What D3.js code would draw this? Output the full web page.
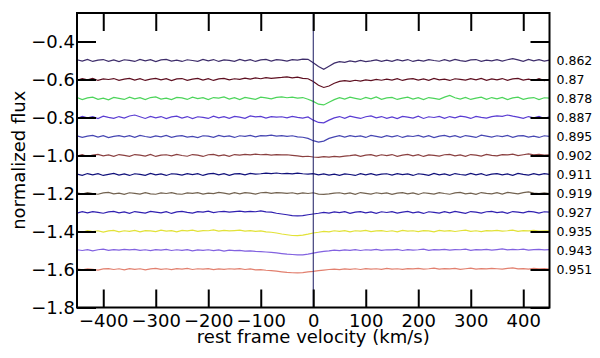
<!DOCTYPE html>
<html>
<head>
<meta charset="utf-8">
<script src="https://cdn.jsdelivr.net/npm/d3@7"></script>
<style>
body { margin: 0; background: #fff; }
svg text { font-family: "DejaVu Sans", sans-serif; fill: #000; }
</style>
</head>
<body>
<svg id="chart" width="600" height="358"></svg>
<script>
// velocity grid (km/s)
var velocity = [-450, -440, -430, -420, -410, -400, -390, -380, -370, -360,
	-350, -340, -330, -320, -310, -300, -290, -280, -270, -260,
	-250, -240, -230, -220, -210, -200, -190, -180, -170, -160,
	-150, -140, -130, -120, -110, -100, -90, -80, -70, -60,
	-50, -40, -30, -20, -10, 0, 10, 20, 30, 40,
	50, 60, 70, 80, 90, 100, 110, 120, 130, 140,
	150, 160, 170, 180, 190, 200, 210, 220, 230, 240,
	250, 260, 270, 280, 290, 300, 310, 320, 330, 340,
	350, 360, 370, 380, 390, 400, 410, 420, 430, 440,
	450];

var labels = ["0.862", "0.87", "0.878", "0.887", "0.895", "0.902", "0.911", "0.919", "0.927", "0.935", "0.943", "0.951"];
var offsets = [-0.5, -0.6, -0.7, -0.8, -0.9, -1.0, -1.1, -1.2, -1.3, -1.4, -1.5, -1.6];
var colors = ["#3d2c6a", "#5e0f20", "#4cd45a", "#5a3cd2", "#4646b2", "#8a4040", "#10107a", "#726250", "#3020b0", "#e2e238", "#8262e0", "#e2806f"];

var yTicks = [-1.8, -1.6, -1.4, -1.2, -1.0, -0.8, -0.6, -0.4];
var xTicks = [-400, -300, -200, -100, 0, 100, 200, 300, 400];

// flux minus continuum, one array per phase
var flux862 = [0.004, -0.003, 0.006, -0.005, 0.002, 0.005, -0.004, 0.003, -0.006, 0.004,
	0.001, -0.005, 0.006, -0.002, 0.004, -0.006, 0.003, 0.006, -0.003, 0.002,
	-0.005, 0.004, 0.000, -0.004, 0.006, -0.002, 0.005, -0.005, 0.003, 0.001,
	-0.004, 0.006, -0.002, 0.004, -0.005, 0.003, 0.006, -0.003, 0.005, 0.002,
	-0.003, 0.005, 0.002, 0.007, 0.006, -0.012, -0.032, -0.046, -0.030, -0.014,
	-0.006, -0.010, -0.002, -0.007, 0.001, -0.006, -0.002, 0.003, -0.005, 0.002,
	-0.004, 0.004, -0.002, 0.005, -0.005, 0.002, -0.003, 0.005, 0.000, -0.004,
	0.004, -0.003, 0.006, -0.001, -0.005, 0.003, 0.005, -0.004, 0.002, -0.002,
	0.005, -0.003, 0.004, 0.010, 0.003, -0.004, 0.006, -0.002, 0.004, -0.003,
	0.002];
var flux87 = [-0.004, 0.005, -0.002, 0.006, -0.005, 0.003, 0.000, 0.005, -0.004, 0.002,
	0.006, -0.003, 0.004, -0.005, 0.002, 0.006, -0.002, 0.004, -0.006, 0.003,
	0.005, -0.004, 0.002, 0.006, -0.003, 0.004, -0.005, 0.003, 0.006, -0.002,
	0.004, 0.001, 0.007, 0.002, 0.008, 0.004, 0.010, 0.006, 0.009, 0.011,
	0.014, 0.009, 0.012, 0.006, 0.004, -0.010, -0.030, -0.042, -0.034, -0.020,
	-0.010, -0.006, -0.010, -0.004, -0.008, -0.002, -0.006, 0.001, -0.004, 0.002,
	-0.003, 0.004, -0.005, 0.002, 0.005, -0.003, 0.003, -0.004, 0.006, -0.002,
	0.002, -0.005, 0.004, 0.001, -0.003, 0.005, -0.002, 0.006, -0.004, 0.003,
	-0.002, 0.005, -0.004, 0.003, 0.006, -0.003, 0.002, -0.005, 0.004, -0.006,
	0.001];
var flux878 = [0.005, -0.006, 0.003, 0.007, -0.004, 0.002, -0.007, 0.006, 0.001, -0.005,
	0.007, -0.002, 0.004, -0.006, 0.005, 0.008, -0.003, 0.002, -0.006, 0.006,
	0.003, -0.005, 0.007, -0.001, 0.004, -0.006, 0.005, 0.002, 0.008, -0.003,
	0.004, -0.006, 0.006, 0.001, -0.004, 0.007, 0.003, -0.002, 0.006, 0.009,
	0.004, 0.007, 0.002, 0.005, -0.004, -0.015, -0.030, -0.034, -0.020, -0.006,
	0.004, -0.003, 0.007, 0.001, -0.005, 0.006, -0.002, 0.008, -0.004, 0.003,
	0.006, -0.005, 0.002, 0.007, -0.003, 0.004, -0.006, 0.005, 0.001, -0.004,
	0.007, 0.016, 0.004, -0.003, 0.006, -0.005, 0.002, 0.007, -0.004, 0.005,
	-0.002, 0.006, -0.006, 0.003, 0.007, -0.004, 0.002, 0.005, -0.006, 0.004,
	0.002];
var flux887 = [-0.005, 0.006, -0.002, 0.004, -0.006, 0.007, 0.001, -0.004, 0.005, -0.003,
	0.008, 0.013, 0.004, -0.005, 0.006, -0.002, 0.005, -0.006, 0.003, 0.007,
	-0.003, 0.005, -0.006, 0.004, 0.001, -0.005, 0.007, -0.002, 0.004, -0.004,
	0.006, 0.002, -0.004, 0.008, 0.003, 0.006, -0.003, 0.005, 0.002, 0.004,
	-0.002, 0.006, 0.001, -0.003, 0.003, -0.014, -0.026, -0.028, -0.014, -0.002,
	0.005, -0.004, 0.007, 0.001, -0.005, 0.004, 0.008, -0.002, 0.005, -0.004,
	0.003, -0.006, 0.006, 0.002, -0.003, 0.007, -0.005, 0.004, 0.000, 0.006,
	-0.004, 0.005, -0.002, 0.007, 0.003, -0.005, 0.006, 0.001, -0.003, 0.005,
	0.009, 0.006, 0.013, 0.007, 0.002, -0.004, 0.005, -0.002, 0.006, -0.005,
	0.003];
var flux895 = [0.003, -0.005, 0.002, 0.006, -0.003, 0.004, -0.006, 0.001, 0.005, -0.002,
	0.004, -0.004, 0.006, 0.000, -0.005, 0.003, -0.002, 0.006, -0.004, 0.002,
	0.005, -0.003, 0.001, -0.006, 0.004, 0.002, -0.004, 0.006, -0.001, 0.003,
	-0.005, 0.004, 0.001, 0.006, -0.002, 0.005, 0.003, 0.007, 0.002, 0.005,
	0.001, 0.004, -0.002, -0.004, -0.010, -0.022, -0.030, -0.024, -0.010, -0.002,
	0.004, -0.003, 0.005, -0.001, 0.003, -0.005, 0.006, 0.001, -0.004, 0.004,
	-0.002, 0.005, -0.005, 0.003, 0.000, 0.006, -0.003, 0.004, -0.006, 0.002,
	0.006, -0.002, 0.004, -0.004, 0.005, 0.001, -0.005, 0.007, 0.002, -0.003,
	0.004, -0.001, 0.006, -0.004, 0.003, 0.005, -0.003, 0.002, -0.005, 0.004,
	0.001];
var flux902 = [-0.003, 0.004, -0.005, 0.002, 0.006, -0.002, 0.003, -0.004, 0.005, 0.001,
	-0.004, 0.005, 0.002, -0.003, 0.006, -0.005, 0.002, 0.004, -0.002, 0.006,
	0.000, -0.004, 0.005, 0.002, -0.005, 0.004, 0.006, -0.002, 0.003, -0.004,
	0.005, 0.002, 0.006, 0.003, 0.007, 0.004, 0.006, 0.002, 0.005, 0.003,
	0.004, 0.001, -0.002, -0.006, -0.004, -0.008, -0.010, -0.006, -0.009, -0.005,
	-0.007, -0.003, -0.001, 0.003, -0.004, 0.002, 0.005, -0.003, 0.004, -0.001,
	0.005, -0.004, 0.002, 0.006, -0.002, 0.004, -0.005, 0.003, 0.001, -0.003,
	0.004, 0.006, -0.002, 0.003, -0.004, 0.005, 0.002, -0.003, 0.006, 0.001,
	-0.002, 0.005, 0.003, 0.007, -0.001, 0.004, 0.009, 0.003, 0.006, 0.002,
	0.004];
var flux911 = [0.002, -0.004, 0.005, -0.002, 0.004, -0.005, 0.001, 0.006, -0.003, 0.003,
	-0.005, 0.004, 0.001, -0.004, 0.006, -0.002, 0.003, -0.005, 0.004, 0.002,
	-0.003, 0.005, -0.001, 0.004, -0.005, 0.003, 0.006, -0.002, 0.004, -0.004,
	0.003, 0.005, -0.002, 0.006, 0.002, 0.004, 0.007, 0.005, 0.008, 0.004,
	0.006, 0.003, 0.007, 0.004, 0.002, 0.005, -0.002, 0.003, -0.003, 0.002,
	-0.004, 0.003, 0.000, -0.005, 0.004, -0.002, 0.005, -0.003, 0.002, 0.004,
	-0.003, 0.005, -0.001, 0.003, -0.005, 0.004, 0.001, -0.004, 0.006, -0.002,
	0.003, -0.004, 0.005, 0.000, -0.003, 0.006, -0.002, 0.004, -0.005, 0.002,
	0.005, -0.002, 0.003, -0.004, 0.006, 0.001, -0.003, 0.004, -0.002, 0.005,
	0.001];
var flux919 = [0.003, -0.003, 0.005, -0.001, -0.004, 0.003, 0.006, -0.002, 0.002, -0.004,
	0.004, 0.001, -0.003, 0.005, -0.002, -0.004, 0.003, 0.000, 0.005, -0.002,
	-0.004, 0.003, 0.001, 0.005, -0.003, 0.002, -0.001, 0.006, 0.002, -0.003,
	0.004, -0.002, 0.005, 0.002, -0.003, 0.004, 0.006, 0.001, 0.005, 0.003,
	0.001, 0.004, -0.002, 0.003, 0.000, 0.004, -0.003, -0.005, -0.002, 0.002,
	0.004, -0.002, 0.003, -0.004, 0.005, 0.001, -0.003, 0.004, -0.001, 0.003,
	-0.004, 0.002, 0.005, -0.002, 0.003, -0.005, 0.004, 0.001, -0.003, 0.005,
	0.000, -0.004, 0.003, 0.006, -0.002, 0.002, -0.004, 0.005, 0.001, -0.002,
	0.004, -0.003, 0.006, 0.002, -0.002, 0.005, 0.008, 0.002, -0.001, 0.003,
	0.000];
var flux927 = [-0.003, 0.004, -0.002, 0.005, 0.001, -0.004, 0.003, 0.006, -0.002, 0.003,
	-0.004, 0.005, 0.001, -0.003, 0.006, 0.002, -0.002, 0.004, -0.005, 0.003,
	0.006, 0.001, -0.003, 0.005, 0.002, 0.007, -0.001, 0.004, 0.006, 0.002,
	0.005, 0.007, 0.003, 0.006, 0.004, 0.008, 0.003, 0.002, -0.004, -0.008,
	-0.012, -0.016, -0.018, -0.016, -0.012, -0.008, -0.004, 0.001, -0.003, 0.003,
	-0.001, 0.004, -0.004, 0.002, 0.005, -0.002, 0.003, -0.004, 0.004, 0.000,
	0.005, -0.003, 0.002, 0.006, -0.002, 0.003, -0.005, 0.004, 0.001, -0.003,
	0.004, -0.002, 0.006, 0.001, -0.004, 0.005, 0.002, -0.003, 0.004, 0.006,
	-0.001, 0.003, -0.004, 0.005, 0.002, -0.002, 0.006, 0.003, -0.003, 0.004,
	0.002];
var flux935 = [0.002, -0.004, 0.005, -0.001, 0.004, -0.003, 0.003, 0.006, -0.002, 0.004,
	0.001, 0.006, -0.002, 0.005, 0.003, -0.001, 0.007, 0.002, 0.005, -0.002,
	0.006, 0.003, 0.007, 0.001, 0.005, 0.004, 0.008, 0.002, 0.006, 0.003,
	0.005, 0.007, 0.002, 0.005, 0.001, 0.003, -0.002, -0.004, -0.008, -0.013,
	-0.017, -0.021, -0.022, -0.019, -0.014, -0.008, -0.004, 0.001, -0.002, 0.004,
	0.001, 0.005, -0.002, 0.004, 0.002, 0.006, -0.001, 0.003, 0.005, 0.000,
	0.004, -0.002, 0.006, 0.002, 0.004, -0.001, 0.005, 0.003, -0.002, 0.006,
	0.002, 0.005, 0.000, 0.004, 0.007, 0.001, 0.004, -0.001, 0.005, 0.003,
	0.006, 0.002, 0.004, 0.007, 0.001, 0.005, 0.003, 0.006, 0.002, 0.004,
	0.003];
var flux943 = [0.004, 0.000, 0.005, -0.002, 0.004, 0.007, 0.001, 0.005, 0.002, 0.006,
	0.003, 0.006, 0.001, 0.004, -0.001, 0.005, 0.002, 0.006, 0.000, 0.004,
	0.001, 0.005, -0.002, 0.003, 0.001, 0.004, -0.001, 0.003, -0.003, 0.002,
	-0.001, 0.001, -0.003, -0.002, -0.005, -0.006, -0.008, -0.010, -0.013, -0.016,
	-0.019, -0.021, -0.023, -0.023, -0.019, -0.014, -0.009, -0.005, -0.002, 0.002,
	-0.001, 0.003, 0.001, 0.005, 0.000, 0.004, 0.002, 0.006, 0.001, 0.004,
	0.003, 0.006, 0.000, 0.005, 0.002, 0.004, 0.007, 0.001, 0.005, 0.003,
	0.006, 0.002, 0.005, 0.004, 0.007, 0.001, 0.005, 0.003, 0.006, 0.002,
	0.005, 0.008, 0.003, 0.006, 0.004, 0.007, 0.002, 0.005, 0.006, 0.003,
	0.005];
var flux951 = [0.003, -0.002, 0.004, 0.001, -0.003, 0.003, 0.005, 0.000, 0.004, -0.002,
	0.005, 0.001, 0.004, -0.002, 0.003, 0.006, 0.001, 0.004, -0.001, 0.005,
	0.002, 0.006, 0.000, 0.004, 0.002, 0.005, -0.001, 0.003, 0.001, 0.004,
	0.002, 0.005, 0.000, 0.003, -0.002, -0.001, -0.004, -0.006, -0.009, -0.012,
	-0.015, -0.017, -0.018, -0.016, -0.013, -0.010, -0.006, -0.003, 0.000, 0.002,
	-0.001, 0.003, 0.001, 0.004, 0.000, 0.005, 0.002, 0.004, 0.001, 0.006,
	0.002, 0.004, 0.001, 0.005, 0.003, 0.006, 0.002, 0.004, 0.007, 0.002,
	0.005, 0.003, 0.006, 0.001, 0.004, 0.007, 0.002, 0.005, 0.003, 0.006,
	0.004, 0.002, 0.006, 0.009, 0.003, 0.005, 0.002, 0.006, 0.003, 0.005,
	0.002];

var fluxes = [flux862, flux87, flux878, flux887, flux895, flux902, flux911, flux919, flux927, flux935, flux943, flux951];

(function () {
	var svg = d3.select("#chart");
	var margin = {top: 13, right: 50.5, bottom: 50.5, left: 77},
		width = +svg.attr("width") - margin.left - margin.right,
		height = +svg.attr("height") - margin.top - margin.bottom,
		g = svg.append("g").attr("transform", "translate(" + margin.left + "," + margin.top + ")");

	var x = d3.scaleLinear().domain([-450, 450]).range([0, width]);
	var y = d3.scaleLinear().domain([-1.8, -0.25]).range([height, 0]);

	// spectra
	var line = d3.line()
		.x(function (d) { return x(d[0]); })
		.y(function (d) { return y(d[1]); });

	fluxes.forEach(function (f, i) {
		var pts = velocity.map(function (v, j) { return [v, offsets[i] + f[j]]; });
		g.append("path")
			.datum(pts)
			.attr("fill", "none")
			.attr("stroke", colors[i])
			.attr("stroke-width", 1.2)
			.attr("d", line);
	});

	// zero velocity
	g.append("line")
		.attr("x1", x(0)).attr("x2", x(0))
		.attr("y1", 0).attr("y2", height)
		.attr("stroke", "#1a1a60")
		.attr("stroke-width", 1);

	function style(ax) {
		ax.select(".domain").remove();
		ax.selectAll(".tick line").attr("stroke", "#000").attr("stroke-width", 2);
		ax.selectAll(".tick text").style("font-size", "18px");
	}

	g.append("g")
		.attr("transform", "translate(0," + height + ")")
		.call(d3.axisBottom(x).tickValues(xTicks).tickSize(-18).tickPadding(7).tickFormat(d3.format("d")))
		.call(style);

	g.append("g")
		.call(d3.axisTop(x).tickValues(xTicks).tickSize(-18).tickFormat(""))
		.call(style);

	g.append("g")
		.call(d3.axisLeft(y).tickValues(yTicks).tickSize(-19).tickPadding(2).tickFormat(d3.format(".1f")))
		.call(style);

	g.append("g")
		.attr("transform", "translate(" + width + ",0)")
		.call(d3.axisRight(y).tickValues(yTicks).tickSize(-19).tickFormat(""))
		.call(style);

	g.selectAll(".tick text").attr("fill", "#000");

	// frame
	g.append("rect")
		.attr("width", width)
		.attr("height", height)
		.attr("fill", "none")
		.attr("stroke", "#000")
		.attr("stroke-width", 2);

	// phase labels
	g.selectAll(".phase")
		.data(labels)
		.enter().append("text")
		.attr("class", "phase")
		.attr("x", width + 7)
		.attr("y", function (d, i) { return y(offsets[i]); })
		.attr("dy", "0.35em")
		.style("font-size", "12.5px")
		.text(function (d) { return d; });

	g.append("text")
		.attr("x", width / 2)
		.attr("y", height + 35.5)
		.attr("text-anchor", "middle")
		.style("font-size", "18px")
		.text("rest frame velocity (km/s)");

	g.append("text")
		.attr("transform", "rotate(-90)")
		.attr("x", -height / 2)
		.attr("y", -52)
		.attr("text-anchor", "middle")
		.style("font-size", "18px")
		.text("normalized flux");
}) ();
</script>
</body>
</html>
